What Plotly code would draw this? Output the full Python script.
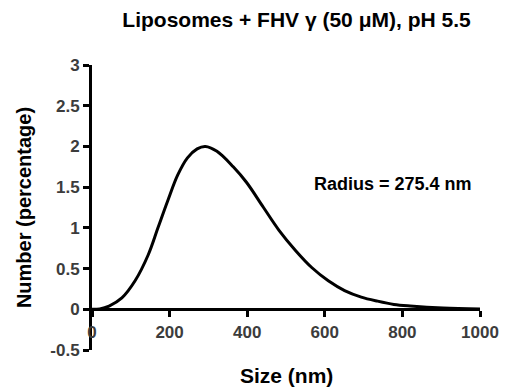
import plotly.graph_objects as go

size_nm = [0, 20, 44, 77, 111, 145, 170, 195, 221, 246, 271, 292, 322, 364, 398, 442,
           482, 525, 567, 609, 651, 694, 736, 778, 820, 905, 1000]
number_pct = [0.0, 0.005, 0.04, 0.14, 0.35, 0.67, 1.0, 1.33, 1.65, 1.86, 1.97, 2.0, 1.94,
              1.75, 1.56, 1.25, 0.97, 0.72, 0.51, 0.35, 0.23, 0.15, 0.10, 0.06, 0.04,
              0.015, 0.005]

x_ticks = [0, 200, 400, 600, 800, 1000]
y_ticks = [-0.5, 0, 0.5, 1, 1.5, 2, 2.5, 3]
y_tick_text = ["-0.5", "0", "0.5", "1", "1.5", "2", "2.5", "3"]

title_text = "Liposomes + FHV γ (50 μM), pH 5.5"
x_title = "Size (nm)"
y_title = "Number (percentage)"
note_text = "Radius = 275.4 nm"

FONT = "Liberation Sans, Arial, sans-serif"
TICK_COLOR = "#3c3c3c"

fig = go.Figure()
fig.add_trace(go.Scatter(x=size_nm, y=number_pct, mode="lines",
                         line=dict(color="black", width=3, shape="spline", smoothing=1.0),
                         showlegend=False, hoverinfo="skip"))

y_min, y_max = -0.5, 3
fig.update_layout(
    width=511, height=390,
    margin=dict(l=92, r=22, t=65, b=40),
    paper_bgcolor="white", plot_bgcolor="white",
    font=dict(family=FONT, color="black"),
    title=dict(text=title_text, x=296.5 / 511, xanchor="center", y=1 - 20 / 390, yanchor="middle",
               yref="container", font=dict(family=FONT, size=21, color="black", weight="bold")),
    xaxis=dict(range=[0, 1000], tickvals=x_ticks, ticks="outside", ticklen=6, tickwidth=2.5,
               tickcolor="black", showline=True, linecolor="black", linewidth=3,
               showgrid=False, zeroline=False, anchor="free",
               position=(0 - y_min) / (y_max - y_min),
               tickfont=dict(family=FONT, size=17, color=TICK_COLOR, weight="bold")),
    yaxis=dict(range=[y_min, y_max], tickvals=y_ticks, ticktext=y_tick_text, ticks="outside",
               ticklen=6, tickwidth=2.5, tickcolor="black", showline=True, linecolor="black",
               linewidth=3, showgrid=False, zeroline=False, automargin=False,
               title=dict(text=y_title, standoff=14,
                          font=dict(family=FONT, size=20, color="black", weight="bold")),
               tickfont=dict(family=FONT, size=17, color=TICK_COLOR, weight="bold")),
    annotations=[
        dict(text=x_title, xref="paper", yref="paper", x=0.5, y=-0.0, yshift=-25,
             showarrow=False, yanchor="middle",
             font=dict(family=FONT, size=21, color="black", weight="bold")),
        dict(text=note_text, xref="x", yref="y", x=775, y=1.54, showarrow=False,
             font=dict(family=FONT, size=18, color="black", weight="bold")),
    ],
)

fig.write_html("out.html")
